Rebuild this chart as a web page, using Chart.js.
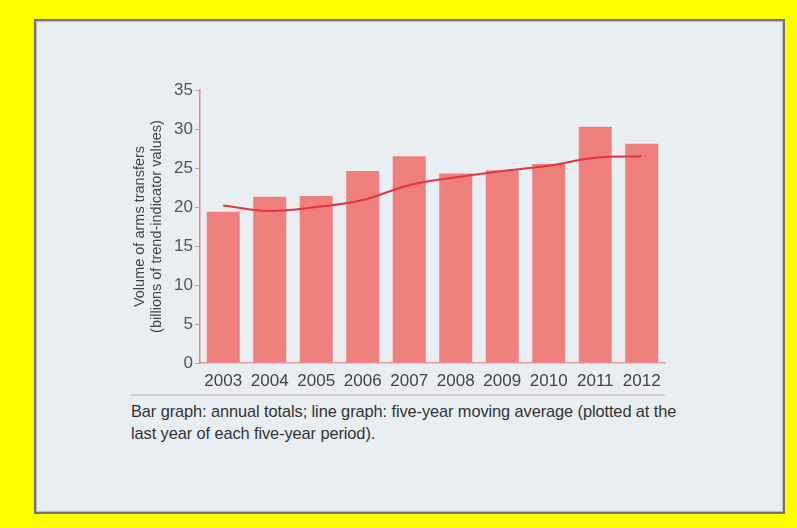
<!DOCTYPE html>
<html><head><meta charset="utf-8">
<script src="https://cdn.jsdelivr.net/npm/chart.js@4"></script>
<style>
html,body{margin:0;padding:0;background:#ffff00;width:797px;height:528px;overflow:hidden;}
#panel{position:absolute;box-sizing:border-box;left:34px;top:19px;width:751px;height:495px;background:#e9eef3;border:2px solid #727272;box-shadow:inset 0 0 1px 1px #b8bcc0;}
#c{position:absolute;left:0;top:0;}
#sep{position:absolute;left:131px;top:394px;width:534px;height:2px;background:#dcc6cf;}
#cap{position:absolute;left:131px;top:400px;width:640px;font-family:"Liberation Sans",Arial,sans-serif;font-size:16.4px;line-height:22px;color:#333;letter-spacing:-0.1px;}
</style></head>
<body>
<div id="panel"></div>
<div id="sep"></div>
<div id="cap">Bar graph: annual totals; line graph: five-year moving average (plotted at the<br>last year of each five-year period).</div>
<canvas id="c" width="797" height="528"></canvas>
<script>
const years = ["2003","2004","2005","2006","2007","2008","2009","2010","2011","2012"];
const annualTotals = [19.4, 21.3, 21.4, 24.6, 26.5, 24.3, 24.7, 25.5, 30.3, 28.1];
const movingAverage = [20.2, 19.5, 20.0, 20.9, 22.8, 23.8, 24.6, 25.3, 26.3, 26.5];
const yTitle = ["Volume of arms transfers", "(billions of trend-indicator values)"];

new Chart(document.getElementById('c'), {
  data: {
    labels: years,
    datasets: [
      { type: 'line', data: movingAverage, borderColor: '#e0363c', borderWidth: 2, pointRadius: 0, tension: 0.4, fill: false, order: 0 },
      { type: 'bar', data: annualTotals, backgroundColor: '#ef7f7c', categoryPercentage: 1, barPercentage: 0.71, order: 1 }
    ]
  },
  options: {
    responsive: false,
    animation: false,
    layout: { padding: { left: 132, top: 90, right: 132, bottom: 135 } },
    plugins: { legend: { display: false }, tooltip: { enabled: false } },
    scales: {
      x: {
        grid: { display: false, drawTicks: false },
        border: { display: true, color: '#e59a9a', width: 1.5 },
        ticks: { color: '#444', font: { family: 'Liberation Sans, Arial, sans-serif', size: 17 }, padding: 8, maxRotation: 0, autoSkip: false },
        afterFit: s => { s.height = 30; }
      },
      y: {
        min: 0, max: 35,
        ticks: { stepSize: 5, color: '#555', font: { family: 'Liberation Sans, Arial, sans-serif', size: 17 }, padding: 2 },
        grid: { drawOnChartArea: false, tickLength: 5, color: '#d99' },
        border: { display: true, color: '#e08a8a', width: 1.5 },
        title: { display: true, text: yTitle, color: '#444', font: { family: 'Liberation Sans, Arial, sans-serif', size: 14.5, lineHeight: 1.15 }, padding: 0 },
        afterFit: s => { s.width = 68; }
      }
    }
  }
});
</script>
</body></html>
